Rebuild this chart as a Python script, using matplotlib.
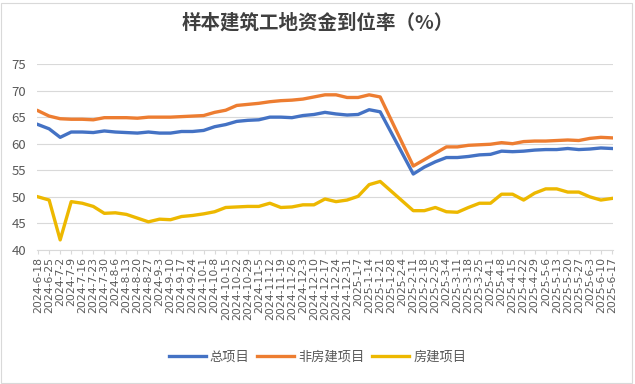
import matplotlib
matplotlib.use("Agg")
import matplotlib.pyplot as plt
from matplotlib.patches import Rectangle

plt.rcParams['font.family'] = ['Noto Sans CJK SC', 'DejaVu Sans']

dates = ["2024-6-18", "2024-6-25", "2024-7-2", "2024-7-9", "2024-7-16", "2024-7-23", "2024-7-30",
         "2024-8-6", "2024-8-13", "2024-8-20", "2024-8-27", "2024-9-3", "2024-9-10", "2024-9-17",
         "2024-9-24", "2024-10-1", "2024-10-8", "2024-10-15", "2024-10-22", "2024-10-29", "2024-11-5",
         "2024-11-12", "2024-11-19", "2024-11-26", "2024-12-3", "2024-12-10", "2024-12-17",
         "2024-12-24", "2024-12-31", "2025-1-7", "2025-1-14", "2025-1-21", "2025-1-28", "2025-2-4",
         "2025-2-11", "2025-2-18", "2025-2-25", "2025-3-4", "2025-3-11", "2025-3-18", "2025-3-25",
         "2025-4-1", "2025-4-8", "2025-4-15", "2025-4-22", "2025-4-29", "2025-5-6", "2025-5-13",
         "2025-5-20", "2025-5-27", "2025-6-3", "2025-6-10", "2025-6-17"]

# 总项目
total = [63.6, 62.8, 61.2, 62.2, 62.2, 62.1, 62.4, 62.2, 62.1, 62.0, 62.2, 62.0, 62.0, 62.3, 62.3,
         62.5, 63.2, 63.6, 64.2, 64.4, 64.5, 65.0, 65.0, 64.9, 65.3, 65.5, 65.9, 65.6, 65.4, 65.5,
         66.4, 66.0, None, None, 54.3, 55.6, 56.6, 57.4, 57.4, 57.6, 57.9, 58.0, 58.6, 58.5, 58.6,
         58.8, 58.9, 58.9, 59.1, 58.9, 59.0, 59.2, 59.1]
# 非房建项目
non_housing = [66.2, 65.2, 64.7, 64.6, 64.6, 64.5, 64.9, 64.9, 64.9, 64.8, 65.0, 65.0, 65.0, 65.1,
               65.2, 65.3, 65.9, 66.3, 67.2, 67.4, 67.6, 67.9, 68.1, 68.2, 68.4, 68.8, 69.2, 69.2,
               68.7, 68.7, 69.2, 68.8, None, None, 55.8, 57.0, 58.2, 59.4, 59.4, 59.7, 59.8, 59.9,
               60.2, 60.0, 60.4, 60.5, 60.5, 60.6, 60.7, 60.6, 61.0, 61.2, 61.1]
# 房建项目
housing = [50.0, 49.4, 41.9, 49.1, 48.8, 48.2, 46.9, 47.0, 46.7, 46.0, 45.3, 45.8, 45.7, 46.3, 46.5,
           46.8, 47.2, 48.0, 48.1, 48.2, 48.2, 48.8, 48.0, 48.1, 48.5, 48.5, 49.6, 49.1, 49.4, 50.1,
           52.3, 52.9, None, None, 47.4, 47.4, 48.0, 47.2, 47.1, 48.0, 48.8, 48.8, 50.5, 50.5, 49.4,
           50.7, 51.5, 51.5, 50.9, 50.9, 50.0, 49.4, 49.7]

series = [("总项目", total, "#4472C4"),
          ("非房建项目", non_housing, "#ED7D31"),
          ("房建项目", housing, "#EDB800")]

fig = plt.figure(figsize=(6.35, 3.84), dpi=100)
ax = fig.add_axes([37 / 635, (384 - 250) / 384, (613 - 37) / 635, 186 / 384])

for name, vals, color in series:
    # 春节期间无数据，直接连线
    xs = [i for i, v in enumerate(vals) if v is not None]
    ys = [v for v in vals if v is not None]
    ax.plot(xs, ys, color=color, lw=2.4, label=name, solid_joinstyle='round')

ax.set_ylim(40, 75)
ax.set_yticks(range(40, 76, 5))
ax.set_xlim(-0.1, len(dates) - 0.9)
ax.set_xticks(range(len(dates)))
ax.set_xticklabels(dates, rotation=90, fontsize=7.8, color='#595959', family='DejaVu Sans')
ax.tick_params(axis='y', length=0, labelsize=9.5, labelcolor='#595959', pad=8)
ax.tick_params(axis='x', length=3, color='#D9D9D9', pad=2)
ax.grid(axis='y', color='#D9D9D9', lw=0.8)
ax.set_axisbelow(True)
for s in ['top', 'right', 'left']:
    ax.spines[s].set_visible(False)
ax.spines['bottom'].set_color('#D9D9D9')

fig.text(0.5, 0.94, "样本建筑工地资金到位率（%）", ha='center', va='center',
         fontsize=14, fontweight='bold', color='#404040')

fig.legend(loc='center', bbox_to_anchor=(0.5, 1 - 357 / 384), ncol=3, frameon=False,
           fontsize=9.5, handlelength=2.8, columnspacing=0.6, handletextpad=0.3,
           labelcolor='#595959')

fig.patches.append(Rectangle((0.002, 0.003), 0.993, 0.99, transform=fig.transFigure,
                             fill=False, edgecolor='#D9D9D9', lw=0.8))

fig.savefig("out.png", dpi=100)
